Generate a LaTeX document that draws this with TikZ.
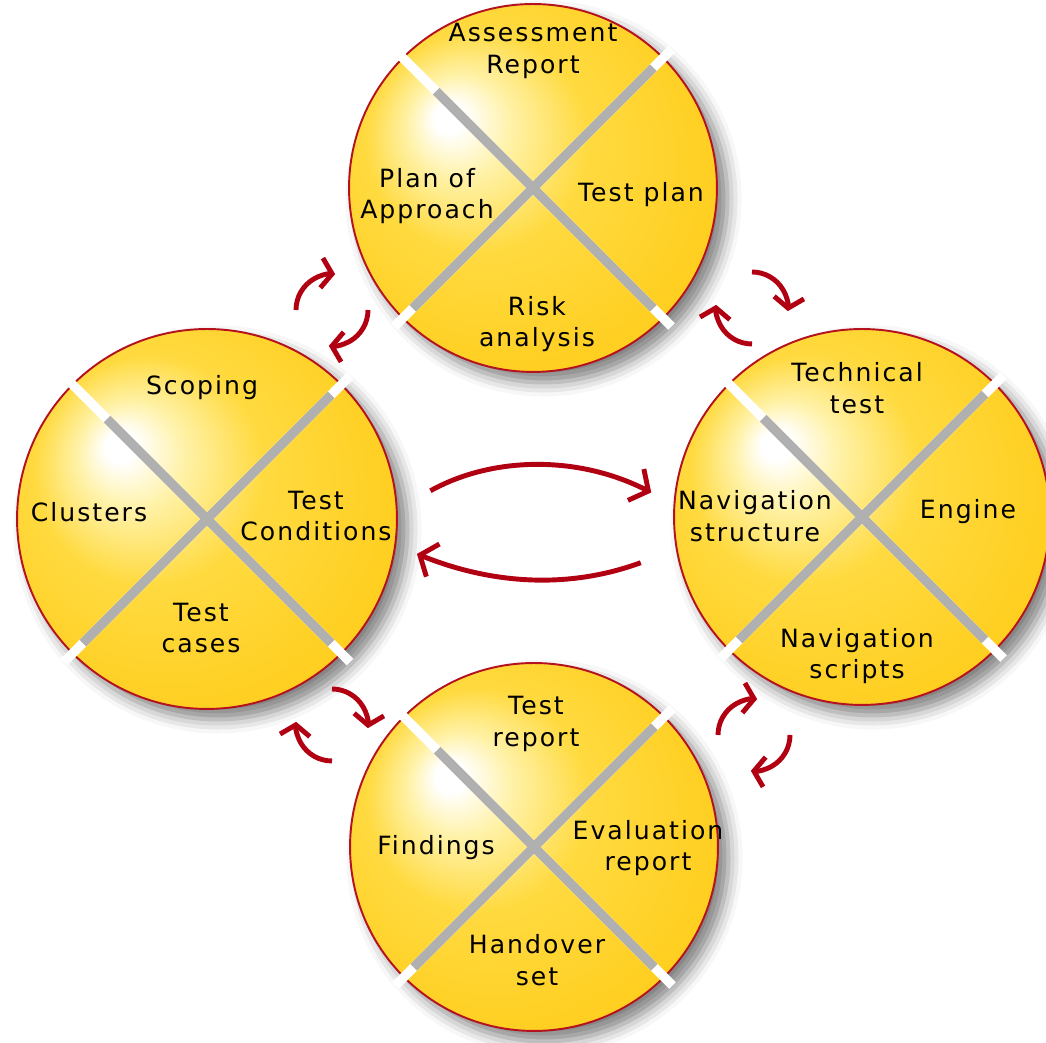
\documentclass[tikz,border=0pt]{standalone}
\usepackage{fontspec}
\setmainfont{DejaVu Sans}[LetterSpace=8]
\usepackage{tikz}
\usetikzlibrary{calc, positioning, arrows.meta, shadows.blur}
\usepackage{xcolor}
\definecolor{rimred}{HTML}{B3121E}
\definecolor{arrowred}{HTML}{B00012}
\definecolor{sunlight}{HTML}{FFF2A8}
\definecolor{sunmid}{HTML}{FFDA40}
\definecolor{sundeep}{HTML}{FFCE1E}
\definecolor{sunedge}{HTML}{F8C000}
\definecolor{groovegray}{HTML}{B0B0B0}
\pgfdeclareradialshading{sunny}{\pgfpoint{-12bp}{10bp}}{%
color(0bp)=(white); color(2bp)=(white); color(7bp)=(sunlight);
color(15bp)=(sunmid); color(30bp)=(sundeep); color(42bp)=(sunedge)}
\tikzstyle{disc} = [
circle,
draw=rimred,
line width=1.1pt,
shading=sunny,
inner sep=0pt,
blur shadow={shadow xshift=6pt, shadow yshift=-6pt, shadow blur radius=8pt, shadow opacity=50}
]
\tikzstyle{slit} = [white, line width=5.4pt]
\tikzstyle{notch} = [groovegray, line width=5.4pt]
\tikzstyle{lbl} = [
align=center,
inner sep=0pt,
font=\fontsize{14.3}{18}\selectfont
]
\tikzstyle{cycarrow}=[arrowred, line width=2.8pt, -{Straight Barb[length=6pt,width=17pt]}]
\tikzstyle{bigarrow}=[arrowred, line width=2.8pt, -{Straight Barb[length=8pt,width=20pt]}]

\begin{document}
\begin{tikzpicture}[x=0.02cm, y=0.02cm]

        \useasboundingbox (0,0) rectangle (1046,1043);

        \node (prepare) [disc, minimum size=7.36cm] at (533,855) {};

        \node (specify) [disc, minimum size=7.6cm] at (207,524) {};

        \node (execute) [disc, minimum size=7.52cm] at (862,526) {};

        \node (complete) [disc, minimum size=7.36cm] at (534,196) {};

        \foreach \c in {prepare, specify, execute, complete}{
        \draw [slit] ($(\c.north west)!-0.03!(\c.south east)$) -- ($(\c.south east)!-0.03!(\c.north west)$);
        \draw [slit] ($(\c.north east)!-0.03!(\c.south west)$) -- ($(\c.south west)!-0.03!(\c.north east)$);
        \draw [notch] ($(\c.north west)!0.13!(\c.south east)$) -- ($(\c.north west)!0.96!(\c.south east)$);
        \draw [notch] ($(\c.north east)!0.04!(\c.south west)$) -- ($(\c.north east)!0.96!(\c.south west)$);
        }

        \node (assess) [lbl] at ($(prepare)+(0,137)$) {Assessment\\Report};
        \node (approach) [lbl] at ($(prepare)+(-106,-8)$) {Plan of\\Approach};
        \node (testplan) [lbl] at ($(prepare)+(108,-7)$) {Test plan};
        \node (risk) [lbl] at ($(prepare)+(4,-136)$) {Risk\\analysis};

        \node (scoping) [lbl] at ($(specify)+(-5,131)$) {Scoping};
        \node (clusters) [lbl] at ($(specify)+(-118,7)$) {Clusters};
        \node (conditions) [lbl] at ($(specify)+(109,3)$) {Test\\Conditions};
        \node (cases) [lbl] at ($(specify)+(-6,-109)$) {Test\\cases};

        \node (technical) [lbl] at ($(execute)+(-5,129)$) {Technical\\test};
        \node (navstruct) [lbl] at ($(execute)+(-107,1)$) {Navigation\\structure};
        \node (engine) [lbl] at ($(execute)+(106,5)$) {Engine};
        \node (navscripts) [lbl] at ($(execute)+(-5,-139)$) {Navigation\\scripts};

        \node (testreport) [lbl] at ($(complete)+(2,123)$) {Test\\report};
        \node (findings) [lbl] at ($(complete)+(-98,-1)$) {Findings};
        \node (evaluation) [lbl] at ($(complete)+(114,-1)$) {Evaluation\\report};
        \node (handover) [lbl] at ($(complete)+(3,-113)$) {Handover\\set};

        \coordinate (gapnw) at (332,733);
        \coordinate (gapne) at (752,735);
        \coordinate (gapsw) at (332,318);
        \coordinate (gapse) at (754,308);

        \foreach \g/\a in {gapnw/180, gapse/180, gapne/90, gapsw/90}{
        \draw [cycarrow] ([shift={(\a:36)}]\g) arc[start angle=\a, delta angle=-95, radius=36];
        \draw [cycarrow] ([shift={(\a+180:36)}]\g) arc[start angle=\a+180, delta angle=-95, radius=36];
        }

        \draw [bigarrow, shorten <=0.75cm, shorten >=0.5cm] (specify.3) to[bend left=28] (execute.176);

        \draw [bigarrow, shorten <=0.75cm, shorten >=0.45cm] (execute.190) to[bend left=21] (specify.-8);

\end{tikzpicture}
\end{document}
